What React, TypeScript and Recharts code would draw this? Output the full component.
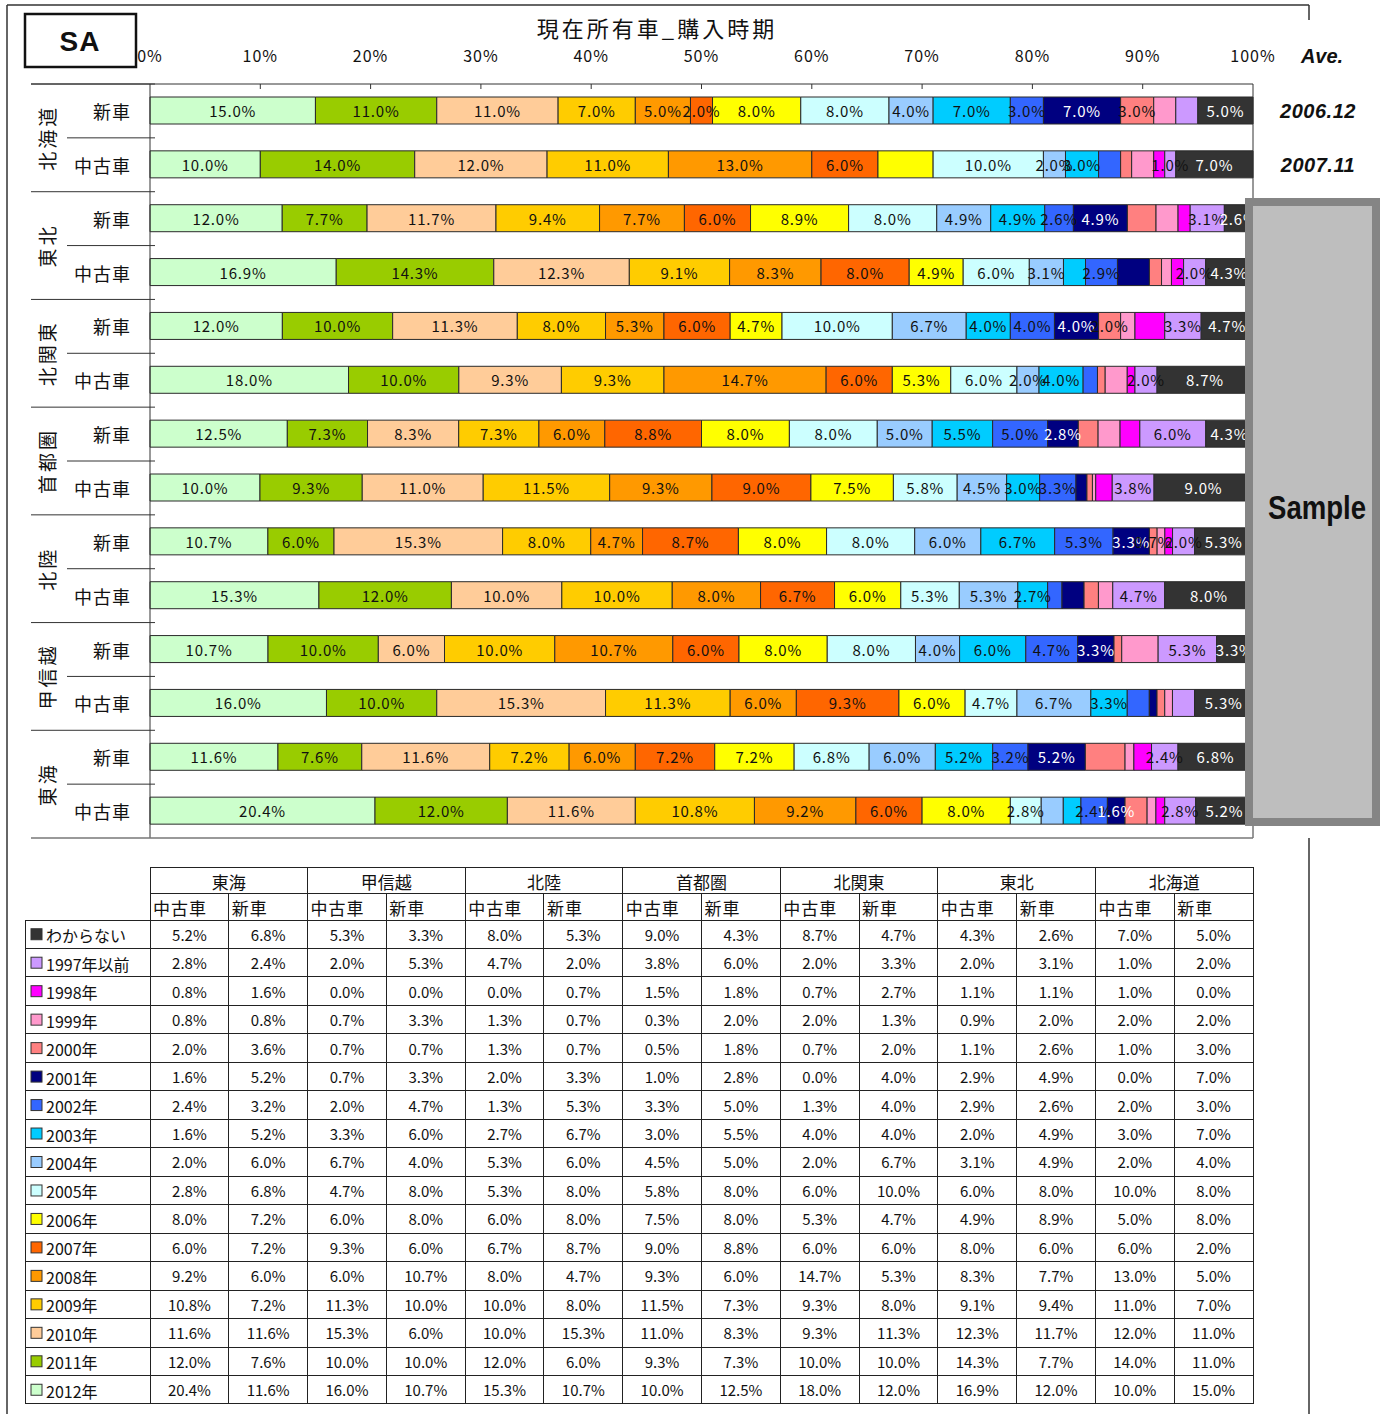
import { BarChart, Bar, XAxis, YAxis, LabelList } from 'recharts';

// 地域・車種（グラフの上から順）
const regions = ['北海道', '東北', '北関東', '首都圏', '北陸', '甲信越', '東海'];
const carTypes = ['新車', '中古車'];
const averages = ['2006.12', '2007.11'];

// 購入時期（積み上げ順）
const years = [
  '2012年', '2011年', '2010年', '2009年', '2008年', '2007年', '2006年', '2005年', '2004年',
  '2003年', '2002年', '2001年', '2000年', '1999年', '1998年', '1997年以前', 'わからない',
];
const yearColors = [
  '#CCFFCC', '#99CC00', '#FFCC99', '#FFCC00', '#FF9900', '#FF6600', '#FFFF00', '#CCFFFF', '#99CCFF',
  '#00CCFF', '#3366FF', '#000080', '#FF8080', '#FF99CC', '#FF00FF', '#CC99FF', '#333333',
];
const darkYears = ['2001年', 'わからない'];

// 値（%）: 北海道新車, 北海道中古車, 東北新車, 東北中古車, ... 東海新車, 東海中古車
const v2012 = [15.0, 10.0, 12.0, 16.9, 12.0, 18.0, 12.5, 10.0, 10.7, 15.3, 10.7, 16.0, 11.6, 20.4];
const v2011 = [11.0, 14.0, 7.7, 14.3, 10.0, 10.0, 7.3, 9.3, 6.0, 12.0, 10.0, 10.0, 7.6, 12.0];
const v2010 = [11.0, 12.0, 11.7, 12.3, 11.3, 9.3, 8.3, 11.0, 15.3, 10.0, 6.0, 15.3, 11.6, 11.6];
const v2009 = [7.0, 11.0, 9.4, 9.1, 8.0, 9.3, 7.3, 11.5, 8.0, 10.0, 10.0, 11.3, 7.2, 10.8];
const v2008 = [5.0, 13.0, 7.7, 8.3, 5.3, 14.7, 6.0, 9.3, 4.7, 8.0, 10.7, 6.0, 6.0, 9.2];
const v2007 = [2.0, 6.0, 6.0, 8.0, 6.0, 6.0, 8.8, 9.0, 8.7, 6.7, 6.0, 9.3, 7.2, 6.0];
const v2006 = [8.0, 5.0, 8.9, 4.9, 4.7, 5.3, 8.0, 7.5, 8.0, 6.0, 8.0, 6.0, 7.2, 8.0];
const v2005 = [8.0, 10.0, 8.0, 6.0, 10.0, 6.0, 8.0, 5.8, 8.0, 5.3, 8.0, 4.7, 6.8, 2.8];
const v2004 = [4.0, 2.0, 4.9, 3.1, 6.7, 2.0, 5.0, 4.5, 6.0, 5.3, 4.0, 6.7, 6.0, 2.0];
const v2003 = [7.0, 3.0, 4.9, 2.0, 4.0, 4.0, 5.5, 3.0, 6.7, 2.7, 6.0, 3.3, 5.2, 1.6];
const v2002 = [3.0, 2.0, 2.6, 2.9, 4.0, 1.3, 5.0, 3.3, 5.3, 1.3, 4.7, 2.0, 3.2, 2.4];
const v2001 = [7.0, 0.0, 4.9, 2.9, 4.0, 0.0, 2.8, 1.0, 3.3, 2.0, 3.3, 0.7, 5.2, 1.6];
const v2000 = [3.0, 1.0, 2.6, 1.1, 2.0, 0.7, 1.8, 0.5, 0.7, 1.3, 0.7, 0.7, 3.6, 2.0];
const v1999 = [2.0, 2.0, 2.0, 0.9, 1.3, 2.0, 2.0, 0.3, 0.7, 1.3, 3.3, 0.7, 0.8, 0.8];
const v1998 = [0.0, 1.0, 1.1, 1.1, 2.7, 0.7, 1.8, 1.5, 0.7, 0.0, 0.0, 0.0, 1.6, 0.8];
const v1997 = [2.0, 1.0, 3.1, 2.0, 3.3, 2.0, 6.0, 3.8, 2.0, 4.7, 5.3, 2.0, 2.4, 2.8];
const vUnknown = [5.0, 7.0, 2.6, 4.3, 4.7, 8.7, 4.3, 9.0, 5.3, 8.0, 3.3, 5.3, 6.8, 5.2];

const seriesValues = [
  v2012, v2011, v2010, v2009, v2008, v2007, v2006, v2005, v2004,
  v2003, v2002, v2001, v2000, v1999, v1998, v1997, vUnknown,
];

// グラフ上でラベルが出ていない区間
const hiddenLabels: Record<string, string[]> = {
  '北海道|新車': ['1999年', '1997年以前'],
  '北海道|中古車': ['2006年', '2002年', '2000年', '1999年', '1998年'],
  '東北|新車': ['2000年', '1999年', '1998年'],
  '東北|中古車': ['2003年', '2001年', '2000年', '1999年', '1998年'],
  '北関東|新車': ['1999年', '1998年'],
  '北関東|中古車': ['2002年', '2000年', '1999年', '1998年'],
  '首都圏|新車': ['2000年', '1999年', '1998年'],
  '首都圏|中古車': ['2001年', '2000年', '1999年', '1998年'],
  '北陸|新車': ['1999年', '1998年'],
  '北陸|中古車': ['2002年', '2001年', '2000年', '1999年'],
  '甲信越|新車': ['2000年', '1999年'],
  '甲信越|中古車': ['2002年', '2001年', '2000年', '1999年', '1997年以前'],
  '東海|新車': ['2000年', '1999年', '1998年'],
  '東海|中古車': ['2004年', '2003年', '2000年', '1999年', '1998年'],
};

const xTicks = [0, 10, 20, 30, 40, 50, 60, 70, 80, 90, 100];

const rows = regions.flatMap((region, ri) =>
  carTypes.map((car, ci) => {
    const i = ri * carTypes.length + ci;
    const row: Record<string, any> = { id: `${region}|${car}`, region, car };
    years.forEach((y, k) => {
      row[y] = seriesValues[k][i];
    });
    return row;
  })
);

const FONT = '"Noto Sans CJK JP", "Noto Sans", sans-serif';
const W = 1386;
const H = 1414;
const PLOT_L = 150;
const PLOT_R = 1253;
const PLOT_T = 84;
const PLOT_B = 838;
const BAND = (PLOT_B - PLOT_T) / rows.length;

const renderXTick = (props: any) => {
  const { x, payload } = props;
  const pct = Math.round(payload.value * 100);
  return (
    <g>
      {pct > 0 && pct < 100 && <line x1={x} x2={x} y1={PLOT_T} y2={PLOT_T + 5} stroke="#333" />}
      <text x={x} y={55} textAnchor="middle" dominantBaseline="central" fontSize={16} letterSpacing={1} fontFamily={FONT} fill="#111">
        {pct}%
      </text>
    </g>
  );
};

const renderYTick = (props: any) => {
  const { y, payload } = props;
  const [region, car] = String(payload.value).split('|');
  const first = car === carTypes[0];
  return (
    <g>
      <text x={131} y={y} textAnchor="end" dominantBaseline="central" fontSize={18} letterSpacing={1} fontFamily={FONT} fill="#111">
        {car}
      </text>
      {first && (
        <>
          <line x1={31} x2={155} y1={y - BAND / 2} y2={y - BAND / 2} stroke="#333" />
          <line x1={67} x2={155} y1={y + BAND / 2} y2={y + BAND / 2} stroke="#333" />
          <text
            transform={`translate(46, ${y + BAND / 2}) rotate(-90)`}
            textAnchor="middle"
            dominantBaseline="central"
            fontSize={19}
            letterSpacing={3}
            fontFamily={FONT}
            fill="#111"
          >
            {region}
          </text>
        </>
      )}
    </g>
  );
};

// ラベルの行はバーの位置から求める（値0の区間は飛ばされるため）
const makeLabel = (year: string) => (props: any) => {
  const vb = props.viewBox || props;
  const { x, y, width, height } = vb;
  const cy = y + height / 2;
  const row = rows[Math.floor((cy - PLOT_T) / BAND)];
  if (!row) return null;
  const v = row[year];
  if (!v || (hiddenLabels[row.id] || []).includes(year)) return null;
  return (
    <text
      x={x + width / 2}
      y={cy}
      textAnchor="middle"
      dominantBaseline="central"
      fontSize={15}
      letterSpacing={0.8}
      fontFamily={FONT}
      fill={darkYears.includes(year) ? '#fff' : '#111'}
    >
      {v.toFixed(1)}%
    </text>
  );
};

// 下の表
const tableCols = [...rows].reverse();
const tableRegions = [...regions].reverse();
const tableYears = [...years].reverse();
const COL_W = (PLOT_R - PLOT_L) / tableCols.length;
const T_TOP = 867;
const T_H1 = 26;
const T_H2 = 27;
const T_DATA = T_TOP + T_H1 + T_H2;
const T_ROW = 28.47;
const T_BOTTOM = T_DATA + T_ROW * tableYears.length;
const LEG_L = 25;

function DataTable() {
  const lines: JSX.Element[] = [];
  lines.push(<line key="h0" x1={PLOT_L} x2={PLOT_R} y1={T_TOP} y2={T_TOP} />);
  lines.push(<line key="h1" x1={PLOT_L} x2={PLOT_R} y1={T_TOP + T_H1} y2={T_TOP + T_H1} />);
  for (let k = 0; k <= tableYears.length; k++) {
    const y = T_DATA + k * T_ROW;
    lines.push(<line key={`r${k}`} x1={LEG_L} x2={PLOT_R} y1={y} y2={y} />);
  }
  lines.push(<line key="vl" x1={LEG_L} x2={LEG_L} y1={T_DATA} y2={T_BOTTOM} />);
  for (let c = 0; c <= tableCols.length; c++) {
    const x = PLOT_L + c * COL_W;
    const y1 = c % 2 === 0 ? T_TOP : T_TOP + T_H1;
    lines.push(<line key={`c${c}`} x1={x} x2={x} y1={y1} y2={T_BOTTOM} />);
  }
  return (
    <g fontFamily={FONT} fill="#111">
      <g stroke="#222" strokeWidth={1} shapeRendering="crispEdges">{lines}</g>
      {tableRegions.map((r, j) => (
        <text key={r} x={PLOT_L + (2 * j + 1) * COL_W} y={T_TOP + T_H1 / 2 + 1} textAnchor="middle" dominantBaseline="central" fontSize={17}>
          {r}
        </text>
      ))}
      {tableCols.map((col, c) => (
        <text key={col.id} x={PLOT_L + c * COL_W + 3} y={T_TOP + T_H1 + T_H2 / 2 + 1} dominantBaseline="central" fontSize={17} letterSpacing={1}>
          {col.car}
        </text>
      ))}
      {tableYears.map((yr, k) => {
        const cy = T_DATA + (k + 0.5) * T_ROW;
        const color = yearColors[years.indexOf(yr)];
        return (
          <g key={yr}>
            <rect x={31} y={cy - 5.5} width={11} height={11} fill={color} stroke="#333" />
            <text x={46} y={cy + 1} dominantBaseline="central" fontSize={16}>
              {yr}
            </text>
            {tableCols.map((col, c) => (
              <text key={col.id} x={PLOT_L + (c + 0.5) * COL_W} y={cy} textAnchor="middle" dominantBaseline="central" fontSize={15}>
                {col[yr].toFixed(1)}%
              </text>
            ))}
          </g>
        );
      })}
    </g>
  );
}

export default function App() {
  return (
    <div style={{ position: 'absolute', left: 0, top: 0, width: W, height: H, background: '#fff' }}>
      <div style={{ position: 'absolute', left: 0, top: 0 }}>
        <BarChart
          layout="vertical"
          width={W}
          height={850}
          data={rows}
          stackOffset="expand"
          barSize={27}
          margin={{ top: PLOT_T - 30, right: W - PLOT_R, left: 0, bottom: 850 - PLOT_B }}
        >
          <XAxis
            type="number"
            orientation="top"
            height={30}
            domain={[0, 1]}
            ticks={xTicks.map((t) => t / 100)}
            interval={0}
            tick={renderXTick}
            tickLine={false}
            axisLine={{ stroke: '#333' }}
          />
          <YAxis
            type="category"
            dataKey="id"
            width={PLOT_L}
            interval={0}
            tick={renderYTick}
            tickLine={false}
            axisLine={{ stroke: '#333' }}
          />
          {years.map((y, k) => (
            <Bar key={y} dataKey={y} stackId="a" fill={yearColors[k]} stroke="#2a2a2a" strokeWidth={1} isAnimationActive={false}>
              <LabelList dataKey={y} content={makeLabel(y)} />
            </Bar>
          ))}
        </BarChart>
      </div>
      <svg width={W} height={H} style={{ position: 'absolute', left: 0, top: 0, pointerEvents: 'none' }}>
        {/* 外枠 */}
        <g stroke="#333" strokeWidth={1.5} fill="none">
          <line x1={7} x2={1309} y1={5} y2={5} />
          <line x1={7} x2={7} y1={5} y2={H} />
          <line x1={1309} x2={1309} y1={5} y2={20} />
          <line x1={1309} x2={1309} y1={PLOT_B} y2={H} />
        </g>
        <line x1={PLOT_R} x2={PLOT_R} y1={PLOT_T} y2={PLOT_B} stroke="#333" />
        <line x1={31} x2={PLOT_R} y1={PLOT_B} y2={PLOT_B} stroke="#777" strokeWidth={1.5} />
        <line x1={31} x2={PLOT_L} y1={PLOT_T} y2={PLOT_T} stroke="#333" />

        {/* SA */}
        <rect x={25} y={14} width={111} height={53} fill="#fff" stroke="#111" strokeWidth={2.5} />
        <text x={80} y={41} textAnchor="middle" dominantBaseline="central" fontSize={28} fontWeight={900} letterSpacing={1} fontFamily='"Liberation Sans", Arial, sans-serif' fill="#111">
          SA
        </text>

        <text x={657} y={27} textAnchor="middle" dominantBaseline="central" fontSize={22} letterSpacing={3} fontFamily={FONT} fill="#111">
          現在所有車_購入時期
        </text>

        {/* Ave. */}
        <text x={1322} y={56} textAnchor="middle" dominantBaseline="central" fontSize={20} fontWeight={900} fontStyle="italic" fontFamily='"Liberation Sans", Arial, sans-serif' fill="#111">
          Ave.
        </text>
        {averages.map((a, i) => (
          <text key={a} x={1318} y={PLOT_T + BAND * (i + 0.5)} textAnchor="middle" dominantBaseline="central" fontSize={20} fontWeight={900} fontStyle="italic" letterSpacing={0.5} fontFamily='"Liberation Sans", Arial, sans-serif' fill="#111">
            {a}
          </text>
        ))}

        {/* Sample */}
        <rect x={1249} y={202} width={127} height={620} fill="#BEBEBE" stroke="#858585" strokeWidth={8} />
        <text x={1317} y={507} textAnchor="middle" dominantBaseline="central" fontSize={33} fontWeight={700} textLength={98} lengthAdjust="spacingAndGlyphs" fontFamily='"Liberation Sans Narrow", "Liberation Sans", Arial, sans-serif' fill="#111">
          Sample
        </text>

        <DataTable />
      </svg>
    </div>
  );
}
